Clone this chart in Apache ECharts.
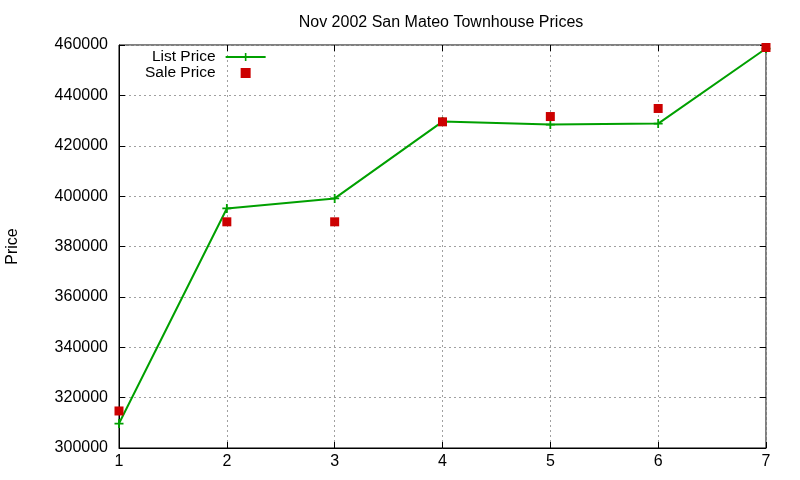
<!DOCTYPE html>
<html>
<head>
<meta charset="utf-8">
<script src="https://cdn.jsdelivr.net/npm/echarts@6/dist/echarts.min.js"></script>
<style>
  html, body { margin: 0; padding: 0; background: #fff; }
  #chart { width: 800px; height: 480px; }
</style>
</head>
<body>
<div id="chart"></div>
<script>
    // data
    const months = [1, 2, 3, 4, 5, 6, 7];
    const listPrice = [309700, 395100, 399100, 429600, 428400, 428800, 458600];
    const salePrice = [314700, 389800, 389800, 429500, 431600, 434800, 459000];

    const plusPath = 'path://M4,0H6V4H10V6H6V10H4V6H0V4H4Z';
    const squarePath = 'path://M0,0H10V10H0Z';
    const fontFamily = '"Liberation Sans", Arial, sans-serif';

    const chart = echarts.init(document.getElementById('chart'), null, { renderer: 'canvas' });

    const tickOnly = {
        show: true,
        axisLine: { show: false },
        axisLabel: { show: false },
        splitLine: { show: false },
        axisTick: { show: true, inside: true, length: 6, lineStyle: { color: '#000' } }
    };

    chart.setOption({
        animation: false,
        title: {
            text: 'Nov 2002 San Mateo Townhouse Prices',
            left: 436,
            textAlign: 'center',
            top: 10,
            textStyle: { fontFamily, fontSize: 16, fontWeight: 'normal', color: '#000' }
        },
        legend: {
            orient: 'vertical',
            align: 'right',
            left: 140,
            top: 44,
            itemGap: 0,
            itemWidth: 40,
            itemHeight: 10,
            symbolKeepAspect: true,
            textStyle: { fontFamily, fontSize: 15.5, color: '#000', padding: [0, 5, 0, 0] },
            data: [
                { name: 'List Price' },
                { name: 'Sale Price', icon: squarePath }
            ]
        },
        grid: {
            left: 119, right: 34, top: 45, bottom: 32,
            outerBoundsMode: 'none',
            containLabel: false,
            show: true, borderColor: '#000', borderWidth: 1
        },
        xAxis: [
            {
                type: 'value',
                min: 1, max: 7, interval: 1,
                axisLine: { show: true, lineStyle: { color: '#000' } },
                axisTick: { show: true, inside: true, length: 6, lineStyle: { color: '#000' } },
                axisLabel: { color: '#000', fontFamily, fontSize: 16, margin: 6 },
                splitLine: { show: true, lineStyle: { color: '#a0a0a0', type: [2, 3], width: 1 } }
            },
            Object.assign({ type: 'value', position: 'top', min: 1, max: 7, interval: 1 }, tickOnly)
        ],
        yAxis: [
            {
                type: 'value',
                name: 'Price',
                nameLocation: 'middle',
                nameRotate: 90,
                nameGap: 98,
                nameTextStyle: { fontFamily, fontSize: 16, color: '#000' },
                min: 300000, max: 460000, interval: 20000,
                axisLine: { show: true, lineStyle: { color: '#000' } },
                axisTick: { show: true, inside: true, length: 6, lineStyle: { color: '#000' } },
                axisLabel: { color: '#000', fontFamily, fontSize: 16, margin: 11, formatter: v => String(v) },
                splitLine: { show: true, lineStyle: { color: '#a0a0a0', type: [2, 3], width: 1 } }
            },
            Object.assign({ type: 'value', position: 'right', min: 300000, max: 460000, interval: 20000 }, tickOnly)
        ],
        series: [
            {
                name: 'List Price',
                type: 'line',
                data: months.map((m, i) => [m, listPrice[i]]),
                symbol: plusPath,
                symbolSize: 9,
                showSymbol: true,
                itemStyle: { color: '#00a000', opacity: 1 },
                lineStyle: { color: '#00a000', width: 2 },
                z: 3
            },
            {
                name: 'Sale Price',
                type: 'scatter',
                data: months.map((m, i) => [m, salePrice[i]]),
                symbol: 'rect',
                symbolSize: 9,
                itemStyle: { color: '#cc0000', opacity: 1 },
                z: 4
            }
        ]
    });
</script>
</body>
</html>
